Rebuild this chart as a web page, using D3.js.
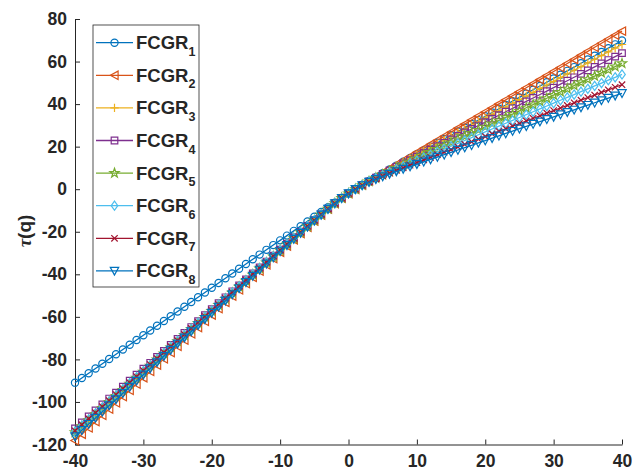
<!DOCTYPE html>
<html>
<head>
<meta charset="utf-8">
<script src="https://cdn.jsdelivr.net/npm/d3@7"></script>
<style>
  body { margin: 0; background: #fff; }
  text { font-family: "Liberation Sans", Arial, sans-serif; font-weight: bold; fill: #262626; }
</style>
</head>
<body>
<script>
// q values (x axis)
const qValues = [-40,-39,-38,-37,-36,-35,-34,-33,-32,-31,-30,-29,-28,-27,-26,-25,-24,-23,-22,-21,
  -20,-19,-18,-17,-16,-15,-14,-13,-12,-11,-10,-9,-8,-7,-6,-5,-4,-3,-2,-1,0,
  1,2,3,4,5,6,7,8,9,10,11,12,13,14,15,16,17,18,19,20,21,22,23,24,25,26,27,28,29,30,
  31,32,33,34,35,36,37,38,39,40];

// tau(q)
const fcgr1 = [-90.94,-88.71,-86.48,-84.25,-82.02,-79.79,-77.56,-75.33,-73.10,-70.87,
  -68.64,-66.41,-64.18,-61.95,-59.72,-57.49,-55.26,-53.03,-50.80,-48.57,
  -46.34,-44.11,-41.88,-39.65,-37.42,-35.19,-32.96,-30.73,-28.50,-26.27,
  -24.04,-21.81,-19.58,-17.36,-15.13,-12.91,-10.70,-8.49,-6.30,-4.13,
  -2,
  0,1.95,3.84,5.68,7.50,9.30,11.10,12.89,14.67,16.46,
  18.24,20.02,21.80,23.58,25.36,27.14,28.92,30.70,32.48,34.26,
  36.04,37.82,39.60,41.38,43.16,44.94,46.72,48.50,50.28,52.06,
  53.84,55.62,57.40,59.18,60.96,62.74,64.52,66.30,68.08,69.86];
const fcgr2 = [-118.1,-115.15,-112.2,-109.25,-106.3,-103.35,-100.4,-97.45,-94.5,-91.55,
  -88.6,-85.65,-82.7,-79.75,-76.8,-73.85,-70.9,-67.95,-65.0,-62.05,
  -59.1,-56.15,-53.2,-50.25,-47.3,-44.35,-41.40,-38.45,-35.51,-32.56,
  -29.61,-26.67,-23.73,-20.81,-17.89,-15.01,-12.16,-9.37,-6.70,-4.20,
  -2,
  0,1.98,3.93,5.86,7.77,9.68,11.59,13.49,15.40,17.30,
  19.20,21.10,23.00,24.90,26.80,28.70,30.60,32.50,34.40,36.30,
  38.20,40.10,42.00,43.90,45.80,47.70,49.60,51.50,53.40,55.30,
  57.20,59.10,61.00,62.90,64.80,66.70,68.60,70.50,72.40,74.30];
const fcgr3 = [-115.06,-112.19,-109.32,-106.45,-103.58,-100.71,-97.84,-94.97,-92.10,-89.23,
  -86.36,-83.49,-80.62,-77.75,-74.88,-72.01,-69.14,-66.27,-63.40,-60.53,
  -57.66,-54.79,-51.92,-49.05,-46.18,-43.31,-40.44,-37.57,-34.70,-31.84,
  -28.97,-26.11,-23.25,-20.40,-17.57,-14.75,-11.98,-9.26,-6.64,-4.19,
  -2,
  0,1.94,3.80,5.61,7.39,9.15,10.89,12.63,14.37,16.10,
  17.84,19.57,21.30,23.03,24.76,26.49,28.22,29.95,31.68,33.41,
  35.14,36.87,38.60,40.33,42.06,43.79,45.52,47.25,48.98,50.71,
  52.44,54.17,55.90,57.63,59.36,61.09,62.82,64.55,66.28,68.01];
const fcgr4 = [-112.4,-109.6,-106.8,-104.0,-101.2,-98.4,-95.6,-92.8,-90.0,-87.2,
  -84.4,-81.6,-78.8,-76.0,-73.2,-70.4,-67.6,-64.8,-62.0,-59.2,
  -56.4,-53.6,-50.8,-48.0,-45.2,-42.4,-39.60,-36.80,-34.00,-31.21,
  -28.41,-25.62,-22.83,-20.05,-17.28,-14.53,-11.82,-9.16,-6.59,-4.17,
  -2,
  0,1.92,3.72,5.45,7.14,8.80,10.44,12.08,13.71,15.33,
  16.95,18.58,20.20,21.82,23.44,25.06,26.68,28.30,29.92,31.54,
  33.16,34.78,36.40,38.02,39.64,41.26,42.88,44.50,46.12,47.74,
  49.36,50.98,52.60,54.22,55.84,57.46,59.08,60.70,62.32,63.94];
const fcgr5 = [-114.3,-111.45,-108.6,-105.75,-102.9,-100.05,-97.2,-94.35,-91.5,-88.65,
  -85.8,-82.95,-80.1,-77.25,-74.4,-71.55,-68.7,-65.85,-63.0,-60.15,
  -57.3,-54.45,-51.6,-48.75,-45.9,-43.05,-40.20,-37.35,-34.50,-31.66,
  -28.81,-25.97,-23.13,-20.30,-17.48,-14.69,-11.93,-9.23,-6.63,-4.18,
  -2,
  0,1.89,3.62,5.26,6.84,8.39,9.91,11.42,12.92,14.42,
  15.91,17.41,18.90,20.39,21.88,23.37,24.86,26.35,27.84,29.33,
  30.82,32.31,33.80,35.29,36.78,38.27,39.76,41.25,42.74,44.23,
  45.72,47.21,48.70,50.19,51.68,53.17,54.66,56.15,57.64,59.13];
const fcgr6 = [-113.92,-111.08,-108.24,-105.40,-102.56,-99.72,-96.88,-94.04,-91.20,-88.36,
  -85.52,-82.68,-79.84,-77.00,-74.16,-71.32,-68.48,-65.64,-62.80,-59.96,
  -57.12,-54.28,-51.44,-48.60,-45.76,-42.92,-40.08,-37.24,-34.40,-31.57,
  -28.73,-25.90,-23.07,-20.25,-17.44,-14.66,-11.91,-9.21,-6.62,-4.18,
  -2,
  0,1.86,3.52,5.06,6.52,7.94,9.34,10.71,12.08,13.44,
  14.79,16.14,17.50,18.85,20.20,21.55,22.90,24.25,25.60,26.95,
  28.30,29.65,31.00,32.35,33.70,35.05,36.40,37.75,39.10,40.45,
  41.80,43.15,44.50,45.85,47.20,48.55,49.90,51.25,52.60,53.95];
const fcgr7 = [-113.54,-110.71,-107.88,-105.05,-102.22,-99.39,-96.56,-93.73,-90.90,-88.07,
  -85.24,-82.41,-79.58,-76.75,-73.92,-71.09,-68.26,-65.43,-62.60,-59.77,
  -56.94,-54.11,-51.28,-48.45,-45.62,-42.79,-39.96,-37.13,-34.30,-31.48,
  -28.65,-25.83,-23.01,-20.20,-17.40,-14.63,-11.88,-9.20,-6.61,-4.18,
  -2,
  0,1.83,3.43,4.87,6.23,7.53,8.80,10.05,11.29,12.52,
  13.75,14.97,16.20,17.42,18.64,19.86,21.08,22.30,23.52,24.74,
  25.96,27.18,28.40,29.62,30.84,32.06,33.28,34.50,35.72,36.94,
  38.16,39.38,40.60,41.82,43.04,44.26,45.48,46.70,47.92,49.14];
const fcgr8 = [-116.2,-113.3,-110.4,-107.5,-104.6,-101.7,-98.8,-95.9,-93.0,-90.1,
  -87.2,-84.3,-81.4,-78.5,-75.6,-72.7,-69.8,-66.9,-64.0,-61.1,
  -58.2,-55.3,-52.4,-49.5,-46.6,-43.7,-40.80,-37.90,-35.00,-32.11,
  -29.21,-26.32,-23.43,-20.55,-17.69,-14.85,-12.04,-9.30,-6.66,-4.19,
  -2,
  0,1.81,3.35,4.71,5.98,7.18,8.35,9.50,10.63,11.75,
  12.87,13.98,15.10,16.21,17.32,18.43,19.54,20.65,21.76,22.87,
  23.98,25.09,26.20,27.31,28.42,29.53,30.64,31.75,32.86,33.97,
  35.08,36.19,37.30,38.41,39.52,40.63,41.74,42.85,43.96,45.07];

const seriesIndex = ["1","2","3","4","5","6","7","8"];
const xTicks = [-40,-30,-20,-10,0,10,20,30,40];
const yTicks = [-120,-100,-80,-60,-40,-20,0,20,40,60,80];

const allSeries = [fcgr1, fcgr2, fcgr3, fcgr4, fcgr5, fcgr6, fcgr7, fcgr8];
const colors = ["#0072BD","#D95319","#EDB120","#7E2F8E","#77AC30","#4DBEEE","#A2142F","#0072BD"];
const markers = ["circle","triLeft","plus","square","star","diamond","cross","triDown"];

const W = 641, H = 470;
const svg = d3.select("body").append("svg")
  .attr("width", W)
  .attr("height", H);

const x = d3.scaleLinear().domain([-40, 40]).range([75, 622]);
const y = d3.scaleLinear().domain([-120, 80]).range([444.5, 19]);

// marker shapes, roughly matlab's
function markerPath(type) {
  switch (type) {
    case "circle": return "M3.6,0A3.6,3.6 0 1 1 -3.6,0A3.6,3.6 0 1 1 3.6,0Z";
    case "triLeft": return "M-4.2,0L3.6,-4.2L3.6,4.2Z";
    case "plus": return "M-4.2,0H4.2M0,-4.2V4.2";
    case "square": return "M-3.3,-3.3H3.3V3.3H-3.3Z";
    case "star": {
      let p = "";
      for (let i = 0; i < 10; i++) {
        const r = i % 2 === 0 ? 4.8 : 1.9;
        const a = -Math.PI / 2 + i * Math.PI / 5;
        p += (i === 0 ? "M" : "L") + (r * Math.cos(a)).toFixed(2) + "," + (r * Math.sin(a)).toFixed(2);
      }
      return p + "Z";
    }
    case "diamond": return "M0,-4.6L3.3,0L0,4.6L-3.3,0Z";
    case "cross": return "M-3.2,-3.2L3.2,3.2M-3.2,3.2L3.2,-3.2";
    case "triDown": return "M0,4.2L-4.2,-3.6L4.2,-3.6Z";
  }
}

// axes (plain hyphen for minus, like matlab)
const fmt = d => String(d);
const yAxis = d3.axisLeft(y).tickValues(yTicks).tickFormat(fmt).tickSize(-5).tickSizeOuter(0).tickPadding(8);
const xAxis = d3.axisBottom(x).tickValues(xTicks).tickFormat(fmt).tickSize(-5).tickSizeOuter(0).tickPadding(10);

const gy = svg.append("g").attr("transform", "translate(75,0)").call(yAxis);
const gx = svg.append("g").attr("transform", "translate(0,444.5)").call(xAxis);
[gx, gy].forEach(g => {
  g.select(".domain").attr("stroke", "#262626");
  g.selectAll(".tick line").attr("stroke", "#262626");
  g.selectAll(".tick text")
    .attr("font-family", "Liberation Sans, Arial, sans-serif")
    .attr("font-weight", "bold")
    .attr("font-size", 17.5)
    .attr("fill", "#262626");
});

// y label, centred by its measured box
const ylab = svg.append("text")
  .attr("font-size", 19);
ylab.append("tspan").attr("font-family", "Liberation Serif, serif").attr("font-style", "italic").text("τ");
ylab.append("tspan").text("(q)");
const bb = ylab.node().getBBox();
ylab.attr("transform", "translate(" + (24 - bb.y - bb.height / 2) + ",231) rotate(-90) translate(" + (-bb.x - bb.width / 2) + ",0)");

// lines + markers
const line = d3.line().x((d, i) => x(qValues[i])).y(d => y(d));

allSeries.forEach((vals, s) => {
  const g = svg.append("g");
  g.append("path")
    .datum(vals)
    .attr("d", line)
    .attr("fill", "none")
    .attr("stroke", colors[s])
    .attr("stroke-width", 1.3);
  g.selectAll("path.mk")
    .data(vals)
    .join("path")
    .attr("class", "mk")
    .attr("transform", (d, i) => "translate(" + x(qValues[i]) + "," + y(d) + ")")
    .attr("d", markerPath(markers[s]))
    .attr("fill", "none")
    .attr("stroke", colors[s])
    .attr("stroke-width", 1.2);
});

// legend
const leg = svg.append("g");
leg.append("rect")
  .attr("x", 93).attr("y", 25)
  .attr("width", 106).attr("height", 262)
  .attr("fill", "#fff")
  .attr("stroke", "#262626")
  .attr("stroke-width", 0.8);

seriesIndex.forEach((n, i) => {
  const cy = 42.7 + i * 32.6;
  leg.append("line")
    .attr("x1", 96).attr("x2", 133)
    .attr("y1", cy).attr("y2", cy)
    .attr("stroke", colors[i]).attr("stroke-width", 1.3);
  leg.append("path")
    .attr("transform", "translate(114.5," + cy + ")")
    .attr("d", markerPath(markers[i]))
    .attr("fill", "none")
    .attr("stroke", colors[i])
    .attr("stroke-width", 1.2);
  const t = leg.append("text")
    .attr("x", 136)
    .attr("y", cy + 6.5)
    .attr("font-size", 18.5);
  t.append("tspan").text("FCGR");
  t.append("tspan").attr("font-size", 12.5).attr("dy", 6.5).text(n);
});
</script>
</body>
</html>
